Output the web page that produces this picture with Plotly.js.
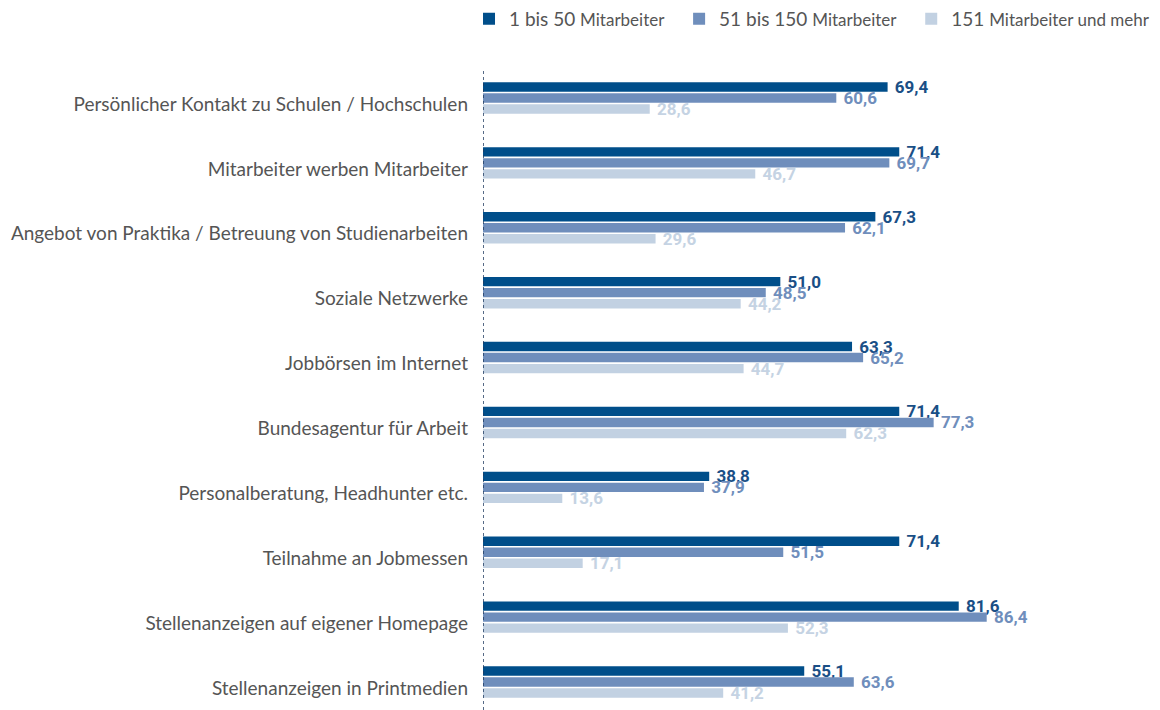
<!DOCTYPE html>
<html><head><meta charset="utf-8">
<script src="https://cdn.plot.ly/plotly-3.0.1.min.js"></script>
<style>body{margin:0;background:#fff}#c{width:1160px;height:710px}</style>
</head><body><div id="c"></div>
<script>
const categories = [
  "Persönlicher Kontakt zu Schulen / Hochschulen",
  "Mitarbeiter werben Mitarbeiter",
  "Angebot von Praktika / Betreuung von Studienarbeiten",
  "Soziale Netzwerke",
  "Jobbörsen im Internet",
  "Bundesagentur für Arbeit",
  "Personalberatung, Headhunter etc.",
  "Teilnahme an Jobmessen",
  "Stellenanzeigen auf eigener Homepage",
  "Stellenanzeigen in Printmedien"
];
const small = [69.4, 71.4, 67.3, 51.0, 63.3, 71.4, 38.8, 71.4, 81.6, 55.1];
const medium = [60.6, 69.7, 62.1, 48.5, 65.2, 77.3, 37.9, 51.5, 86.4, 63.6];
const large = [28.6, 46.7, 29.6, 44.2, 44.7, 62.3, 13.6, 17.1, 52.3, 41.2];
const seriesNames = [
  "1 bis 50 <span style='font-size:17px'>Mitarbeiter</span>\u00a0\u00a0",
  "51 bis 150 <span style='font-size:17px'>Mitarbeiter</span>\u00a0\u00a0",
  "151 <span style='font-size:17px'>Mitarbeiter und mehr</span>"
];
const colors = ["#004e8a", "#6f8ebc", "#c2d1e2"];
const textColors = ["#1a4f86", "#6f8ebc", "#c5d3e3"];
const fmt = v => "\u00a0" + v.toFixed(1).replace(".", ",");
const data = [small, medium, large].map((vals, i) => ({
  type: "bar", orientation: "h",
  y: categories, x: vals,
  name: seriesNames[i],
  marker: {color: colors[i]},
  text: vals.map(fmt),
  textposition: "outside",
  constraintext: "none",
  cliponaxis: false,
  textfont: {family: "Roboto, sans-serif", size: 17, color: textColors[i], weight: "bold"},
  hoverinfo: "none"
}));
const layout = {
  width: 1160, height: 710,
  margin: {l: 483, r: 94, t: 68, b: 0, autoexpand: false},
  barmode: "group", bargap: 0.49, bargroupgap: 0.15,
  paper_bgcolor: "#fff", plot_bgcolor: "#fff",
  showlegend: true,
  legend: {orientation: "h", x: -0.024, xanchor: "left", y: 1.047, yanchor: "bottom",
    font: {family: "Lato, sans-serif", size: 19, color: "#555"}, traceorder: "normal",
    itemwidth: 30},
  xaxis: {range: [0, 100], showgrid: false, zeroline: false, showticklabels: false, showline: false, fixedrange: true},
  yaxis: {range: [9.431, -0.462], showgrid: false, zeroline: false, showline: false,
    ticks: "", ticklabelshift: -6, ticklabelstandoff: 14,
    tickfont: {family: "Lato, sans-serif", size: 19, color: "#555"}},
  shapes: [{type: "line", xref: "x", yref: "paper", x0: 0, x1: 0, y0: 0, y1: 1,
    line: {color: "#1f3a5f", width: 1.5, dash: "dot"}, layer: "above"}]
};
Plotly.newPlot("c", data, layout, {displayModeBar: false, staticPlot: true});
</script></body></html>
